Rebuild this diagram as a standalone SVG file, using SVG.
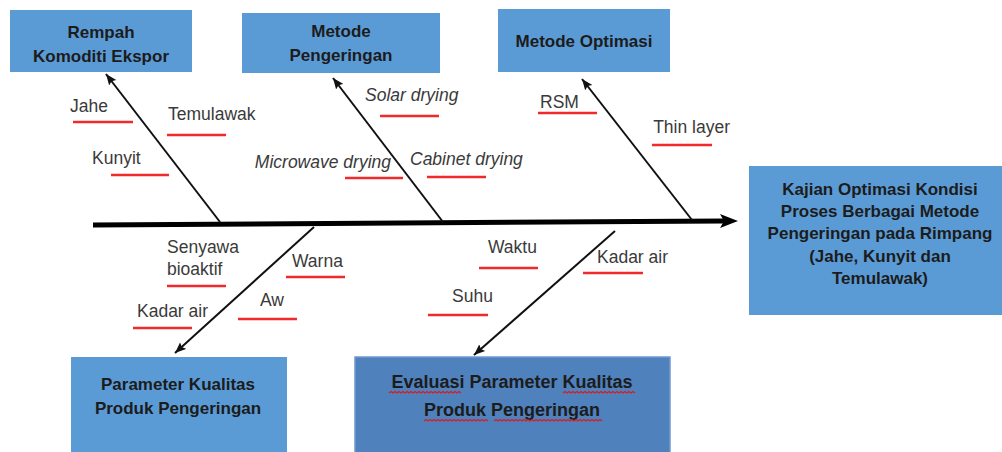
<svg xmlns="http://www.w3.org/2000/svg" width="1002" height="452" viewBox="0 0 1002 452">
<style>
.box{fill:#5b9bd5;}
.box2{fill:#4f81bd;stroke:#6f98cf;stroke-width:1.5;}
.bt{font-family:"Liberation Sans",Arial,sans-serif;font-weight:bold;font-size:17px;fill:#1c1c1c;text-anchor:middle;}
.bt2{font-size:18px;}
.lb{font-family:"Liberation Sans",Arial,sans-serif;font-size:17.5px;fill:#3a3a3a;}
.it{font-style:italic;}
.ul{stroke:#f02a2a;stroke-width:2.5;fill:none;}
.wv{stroke:#d81e1e;stroke-width:1.2;fill:none;}
.bone{stroke:#111;stroke-width:2;fill:none;}
.spine{stroke:#000;stroke-width:5;fill:none;}
</style>
<defs>
<marker id="big" markerUnits="userSpaceOnUse" markerWidth="20" markerHeight="16" refX="4" refY="8" orient="auto">
<path d="M0,1 L18,8 L0,15 L4,8 Z" fill="#000"/>
</marker>
<marker id="sm" markerUnits="userSpaceOnUse" markerWidth="12" markerHeight="10" refX="11" refY="5" orient="auto">
<path d="M0,0.5 L11,5 L0,9.5 L2,5 Z" fill="#111"/>
</marker>
</defs>
<rect width="1002" height="452" fill="#fff"/>

<g id="connectors">
<path class="spine" d="M93,225 L724,221" marker-end="url(#big)"/>
<path class="bone" d="M220,222 L106,74" marker-end="url(#sm)"/>
<path class="bone" d="M443,222 L333,78" marker-end="url(#sm)"/>
<path class="bone" d="M692,220 L582,79" marker-end="url(#sm)"/>
<path class="bone" d="M314,227 L175,353" marker-end="url(#sm)"/>
<path class="bone" d="M615,231 L474,355" marker-end="url(#sm)"/>
</g>

<g id="rempah">
<rect class="box" x="10" y="10" width="182" height="62"/>
<text class="bt" x="101" y="38">Rempah</text>
<text class="bt" x="101" y="62">Komoditi Ekspor</text>
</g>
<g id="metode-pengeringan">
<rect class="box" x="242" y="13" width="198" height="60"/>
<text class="bt" x="341" y="37">Metode</text>
<text class="bt" x="341" y="61">Pengeringan</text>
</g>
<g id="metode-optimasi">
<rect class="box" x="498" y="9" width="172" height="63"/>
<text class="bt" x="584" y="47">Metode Optimasi</text>
</g>
<g id="kajian">
<rect class="box" x="749" y="166" width="253" height="149"/>
<text class="bt" x="880" y="195">Kajian Optimasi Kondisi</text>
<text class="bt" x="880" y="217">Proses Berbagai Metode</text>
<text class="bt" x="880" y="239">Pengeringan pada Rimpang</text>
<text class="bt" x="880" y="262">(Jahe, Kunyit dan</text>
<text class="bt" x="880" y="284">Temulawak)</text>
</g>
<g id="parameter-kualitas">
<rect class="box" x="71" y="357" width="216" height="100"/>
<text class="bt" x="178" y="390">Parameter Kualitas</text>
<text class="bt" x="178" y="414">Produk Pengeringan</text>
</g>
<g id="evaluasi">
<rect class="box2" x="355" y="357" width="315" height="100"/>
<text class="bt bt2" x="512" y="388">Evaluasi Parameter Kualitas</text>
<text class="bt bt2" x="512" y="416">Produk Pengeringan</text>
<path class="wv" d="M389,393 l2,-1.5 l2,1.5 l2,-1.5 l2,1.5 l2,-1.5 l2,1.5 l2,-1.5 l2,1.5 l2,-1.5 l2,1.5 l2,-1.5 l2,1.5 l2,-1.5 l2,1.5 l2,-1.5 l2,1.5 l2,-1.5 l2,1.5 l2,-1.5 l2,1.5 l2,-1.5 l2,1.5 l2,-1.5 l2,1.5 l2,-1.5 l2,1.5 l2,-1.5 l2,1.5 l2,-1.5 l2,1.5 l2,-1.5 l2,1.5 l2,-1.5 l2,1.5 l2,-1.5 l2,1.5"/>
<path class="wv" d="M563,393 l2,-1.5 l2,1.5 l2,-1.5 l2,1.5 l2,-1.5 l2,1.5 l2,-1.5 l2,1.5 l2,-1.5 l2,1.5 l2,-1.5 l2,1.5 l2,-1.5 l2,1.5 l2,-1.5 l2,1.5 l2,-1.5 l2,1.5 l2,-1.5 l2,1.5 l2,-1.5 l2,1.5 l2,-1.5 l2,1.5 l2,-1.5 l2,1.5 l2,-1.5 l2,1.5 l2,-1.5 l2,1.5 l2,-1.5 l2,1.5 l2,-1.5 l2,1.5 l2,-1.5 l2,1.5"/>
<path class="wv" d="M424,421 l2,-1.5 l2,1.5 l2,-1.5 l2,1.5 l2,-1.5 l2,1.5 l2,-1.5 l2,1.5 l2,-1.5 l2,1.5 l2,-1.5 l2,1.5 l2,-1.5 l2,1.5 l2,-1.5 l2,1.5 l2,-1.5 l2,1.5 l2,-1.5 l2,1.5 l2,-1.5 l2,1.5 l2,-1.5 l2,1.5 l2,-1.5 l2,1.5 l2,-1.5 l2,1.5 l2,-1.5 l2,1.5 l2,-1.5 l2,1.5"/>
<path class="wv" d="M494,421 l2,-1.5 l2,1.5 l2,-1.5 l2,1.5 l2,-1.5 l2,1.5 l2,-1.5 l2,1.5 l2,-1.5 l2,1.5 l2,-1.5 l2,1.5 l2,-1.5 l2,1.5 l2,-1.5 l2,1.5 l2,-1.5 l2,1.5 l2,-1.5 l2,1.5 l2,-1.5 l2,1.5 l2,-1.5 l2,1.5 l2,-1.5 l2,1.5 l2,-1.5 l2,1.5 l2,-1.5 l2,1.5 l2,-1.5 l2,1.5 l2,-1.5 l2,1.5 l2,-1.5 l2,1.5 l2,-1.5 l2,1.5 l2,-1.5 l2,1.5 l2,-1.5 l2,1.5 l2,-1.5 l2,1.5 l2,-1.5 l2,1.5 l2,-1.5 l2,1.5 l2,-1.5 l2,1.5 l2,-1.5 l2,1.5 l2,-1.5 l2,1.5"/>
</g>

<g id="labels">
<text class="lb" x="70" y="112">Jahe</text>
<path class="ul" d="M73,122 H133"/>
<text class="lb" x="168" y="120">Temulawak</text>
<path class="ul" d="M167,135 H226"/>
<text class="lb" x="92" y="164">Kunyit</text>
<path class="ul" d="M111,175 H169"/>
<text class="lb it" x="365" y="101">Solar drying</text>
<path class="ul" d="M380,116 H439"/>
<text class="lb it" x="391" y="168" text-anchor="end">Microwave drying</text>
<path class="ul" d="M345,178 H403"/>
<text class="lb it" x="410" y="165">Cabinet drying</text>
<path class="ul" d="M427,177 H486"/>
<text class="lb" x="540" y="108">RSM</text>
<path class="ul" d="M538,113 H597"/>
<text class="lb" x="730" y="133" text-anchor="end">Thin layer</text>
<path class="ul" d="M652,145 H712"/>
<text class="lb" x="167" y="253">Senyawa</text>
<text class="lb" x="167" y="275">bioaktif</text>
<path class="ul" d="M167,286 H226"/>
<text class="lb" x="292" y="267">Warna</text>
<path class="ul" d="M286,277 H345"/>
<text class="lb" x="137" y="317">Kadar air</text>
<path class="ul" d="M133,328 H192"/>
<text class="lb" x="260" y="306">Aw</text>
<path class="ul" d="M238,319 H297"/>
<text class="lb" x="488" y="253">Waktu</text>
<path class="ul" d="M479,268 H538"/>
<text class="lb" x="597" y="263">Kadar air</text>
<path class="ul" d="M583,273 H643"/>
<text class="lb" x="452" y="302">Suhu</text>
<path class="ul" d="M428,315 H488"/>
</g>
</svg>
